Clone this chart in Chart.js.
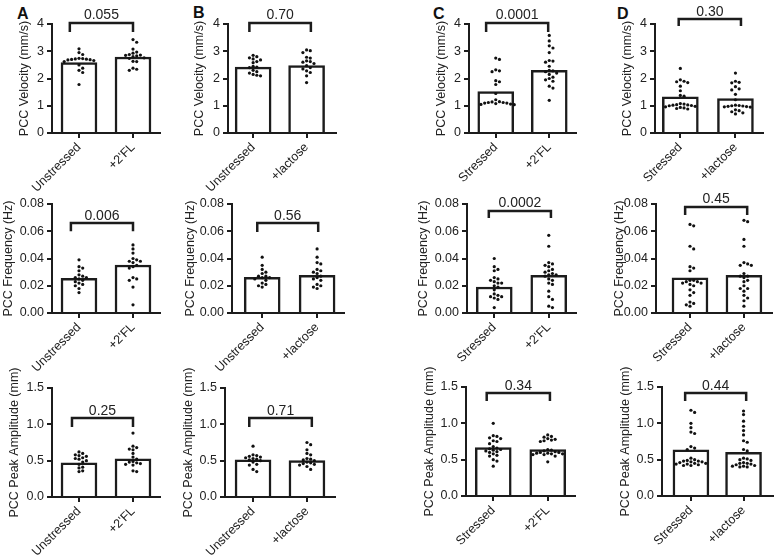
<!DOCTYPE html>
<html><head><meta charset="utf-8">
<script src="https://cdn.jsdelivr.net/npm/chart.js@4.4.0/dist/chart.umd.min.js"></script>
<style>
html,body{margin:0;padding:0;background:#fff;width:775px;height:558px;overflow:hidden;position:relative;font-family:"Liberation Sans",Arial,sans-serif}
canvas{position:absolute}
.lt{position:absolute;font:bold 16px "Liberation Sans",Arial,sans-serif;line-height:16px;color:#111}
</style></head><body>
<div class="lt" style="left:17px;top:6px">A</div>
<div class="lt" style="left:193px;top:5px">B</div>
<div class="lt" style="left:433px;top:6px">C</div>
<div class="lt" style="left:617px;top:6px">D</div>
<script>
// ---------- categories ----------
const catA = ["Unstressed", "+2'FL"];
const catB = ["Unstressed", "+lactose"];
const catC = ["Stressed", "+2'FL"];
const catD = ["Stressed", "+lactose"];

// ---------- y tick labels ----------
const velTicks = [0, 1, 2, 3, 4];
const freqTicks = [0, 0.02, 0.04, 0.06, 0.08];
const ampTicks = [0, 0.5, 1.0, 1.5];

// ---------- p-values ----------
const pVel = ["0.055", "0.70", "0.0001", "0.30"];
const pFreq = ["0.006", "0.56", "0.0002", "0.45"];
const pAmp = ["0.25", "0.71", "0.34", "0.44"];

// ---------- PCC Velocity (mm/s) ----------
const velMeanA = [2.58, 2.79];
const velA_ctrl = [3.09, 2.95, 2.88, 2.74, 2.73, 2.72, 2.71, 2.70, 2.69, 2.68, 2.66, 2.62, 2.50, 2.38, 2.30, 2.22, 1.78];
const velA_trt = [3.43, 3.33, 3.08, 2.97, 2.93, 2.88, 2.86, 2.85, 2.83, 2.80, 2.76, 2.74, 2.63, 2.62, 2.38, 2.34, 2.30];
const velMeanB = [2.42, 2.47];
const velB_ctrl = [2.85, 2.80, 2.76, 2.72, 2.68, 2.62, 2.58, 2.45, 2.42, 2.40, 2.30, 2.25, 2.20, 2.15, 2.12, 2.10];
const velB_trt = [3.05, 3.02, 2.95, 2.78, 2.75, 2.65, 2.62, 2.60, 2.55, 2.47, 2.40, 2.35, 2.28, 2.22, 2.10, 1.85];
const velMeanC = [1.52, 2.30];
const velC_ctrl = [2.75, 2.70, 2.32, 2.28, 2.25, 1.92, 1.88, 1.78, 1.45, 1.22, 1.15, 1.14, 1.12, 1.12, 1.10, 1.10, 1.08, 1.06, 1.05, 1.04];
const velC_trt = [3.58, 3.38, 3.20, 3.12, 2.95, 2.66, 2.64, 2.60, 2.45, 2.30, 2.28, 2.25, 2.20, 2.15, 2.05, 2.00, 1.95, 1.90, 1.72, 1.65, 1.20];
const velMeanD = [1.33, 1.26];
const velD_ctrl = [2.37, 1.95, 1.90, 1.88, 1.85, 1.72, 1.55, 1.38, 1.35, 1.08, 1.06, 1.04, 1.03, 1.02, 1.01, 1.00, 0.98, 0.96, 0.94, 0.92, 0.90, 0.88];
const velD_trt = [2.20, 1.90, 1.86, 1.84, 1.70, 1.62, 1.58, 1.42, 1.22, 1.02, 1.01, 1.00, 0.99, 0.98, 0.97, 0.96, 0.95, 0.85, 0.82, 0.78, 0.74, 0.70];

// ---------- PCC Frequency (Hz) ----------
const freqMeanA = [0.0254, 0.0352];
const freqA_ctrl = [0.039, 0.034, 0.033, 0.031, 0.028, 0.027, 0.026, 0.026, 0.025, 0.024, 0.023, 0.022, 0.021, 0.020, 0.018, 0.015];
const freqA_trt = [0.050, 0.047, 0.044, 0.040, 0.039, 0.038, 0.038, 0.037, 0.035, 0.034, 0.033, 0.026, 0.025, 0.024, 0.019, 0.006];
const freqMeanB = [0.0262, 0.0277];
const freqB_ctrl = [0.041, 0.035, 0.032, 0.030, 0.029, 0.027, 0.027, 0.026, 0.026, 0.025, 0.024, 0.022, 0.021, 0.020, 0.019];
const freqB_trt = [0.047, 0.041, 0.037, 0.036, 0.032, 0.031, 0.030, 0.029, 0.027, 0.026, 0.025, 0.024, 0.021, 0.020, 0.019, 0.018];
const freqMeanC = [0.0191, 0.0276];
const freqC_ctrl = [0.040, 0.034, 0.032, 0.031, 0.026, 0.025, 0.024, 0.023, 0.022, 0.022, 0.020, 0.019, 0.017, 0.014, 0.013, 0.012, 0.012, 0.011, 0.010, 0.004];
const freqC_trt = [0.057, 0.049, 0.037, 0.036, 0.035, 0.034, 0.032, 0.031, 0.030, 0.029, 0.028, 0.028, 0.027, 0.025, 0.024, 0.022, 0.021, 0.016, 0.012, 0.010, 0.005, 0.004];
const freqMeanD = [0.0259, 0.0276];
const freqD_ctrl = [0.065, 0.064, 0.049, 0.047, 0.034, 0.033, 0.031, 0.024, 0.024, 0.023, 0.023, 0.022, 0.022, 0.021, 0.020, 0.017, 0.015, 0.013, 0.008, 0.007, 0.006, 0.005];
const freqD_trt = [0.068, 0.067, 0.054, 0.049, 0.037, 0.036, 0.035, 0.035, 0.029, 0.027, 0.027, 0.026, 0.024, 0.023, 0.020, 0.018, 0.018, 0.016, 0.013, 0.011, 0.009, 0.005];

// ---------- PCC Peak Amplitude (mm) ----------
const ampMeanA = [0.47, 0.526];
const ampA_ctrl = [0.62, 0.60, 0.58, 0.57, 0.56, 0.54, 0.53, 0.52, 0.50, 0.48, 0.45, 0.41, 0.40, 0.36, 0.35];
const ampA_trt = [0.88, 0.70, 0.68, 0.66, 0.65, 0.60, 0.55, 0.52, 0.49, 0.48, 0.47, 0.46, 0.45, 0.44, 0.36, 0.35];
const ampMeanB = [0.51, 0.50];
const ampB_ctrl = [0.70, 0.58, 0.57, 0.56, 0.55, 0.54, 0.53, 0.52, 0.51, 0.50, 0.48, 0.45, 0.44, 0.38, 0.35];
const ampB_trt = [0.75, 0.72, 0.65, 0.60, 0.58, 0.53, 0.52, 0.51, 0.50, 0.48, 0.47, 0.46, 0.45, 0.44, 0.42, 0.38];
const ampMeanC = [0.667, 0.64];
const ampC_ctrl = [1.00, 0.83, 0.82, 0.80, 0.79, 0.76, 0.75, 0.72, 0.68, 0.66, 0.65, 0.64, 0.63, 0.62, 0.61, 0.60, 0.58, 0.56, 0.55, 0.50, 0.48, 0.41];
const ampC_trt = [0.84, 0.82, 0.81, 0.79, 0.78, 0.77, 0.76, 0.75, 0.64, 0.63, 0.62, 0.61, 0.60, 0.60, 0.59, 0.59, 0.58, 0.58, 0.57, 0.57, 0.55, 0.47];
const ampMeanD = [0.635, 0.60];
const ampD_ctrl = [1.18, 1.15, 1.00, 0.94, 0.88, 0.86, 0.68, 0.66, 0.64, 0.52, 0.50, 0.49, 0.48, 0.48, 0.47, 0.47, 0.46, 0.45, 0.45, 0.44, 0.44, 0.43, 0.42, 0.42];
const ampD_trt = [1.17, 1.12, 1.03, 0.96, 0.90, 0.84, 0.76, 0.74, 0.64, 0.62, 0.52, 0.51, 0.50, 0.49, 0.46, 0.45, 0.45, 0.44, 0.43, 0.42, 0.41, 0.41, 0.40, 0.40];

// ---------- assemble panels (data + layout) ----------
const velTitle = "PCC Velocity (mm/s)", freqTitle = "PCC Frequency (Hz)", ampTitle = "PCC Peak Amplitude (mm)";
const panels = [
  {cats:catA, groups:[velA_ctrl, velA_trt], means:velMeanA, p:pVel[0], yTicks:velTicks, yMax:4, dec:0, title:velTitle,
   l:52, r:160, t:24, b:133, xMin:-0.5, xMax:1.5, titleX:24, br:[-0.17, 1.0, 4.04, 3.71]},
  {cats:catB, groups:[velB_ctrl, velB_trt], means:velMeanB, p:pVel[1], yTicks:velTicks, yMax:4, dec:0, title:velTitle,
   l:228, r:336, t:24, b:133, xMin:-0.47, xMax:1.55, titleX:199, br:[-0.07, 1.08, 4.04, 3.71]},
  {cats:catC, groups:[velC_ctrl, velC_trt], means:velMeanC, p:pVel[2], yTicks:velTicks, yMax:4, dec:0, title:velTitle,
   l:469, r:576, t:24, b:133, xMin:-0.5, xMax:1.5, titleX:441, br:[-0.18, 0.98, 4.04, 3.71]},
  {cats:catD, groups:[velD_ctrl, velD_trt], means:velMeanD, p:pVel[3], yTicks:velTicks, yMax:4, dec:0, title:velTitle,
   l:655, r:763, t:24, b:133, xMin:-0.46, xMax:1.5, titleX:627, br:[-0.03, 1.1, 4.18, 3.93]},

  {cats:catA, groups:[freqA_ctrl, freqA_trt], means:freqMeanA, p:pFreq[0], yTicks:freqTicks, yMax:0.08, dec:2, title:freqTitle,
   l:52, r:160, t:204, b:313, xMin:-0.5, xMax:1.5, titleX:8, br:[-0.15, 1.0, 0.066, 0.060]},
  {cats:catB, groups:[freqB_ctrl, freqB_trt], means:freqMeanB, p:pFreq[1], yTicks:freqTicks, yMax:0.08, dec:2, title:freqTitle,
   l:232, r:344, t:204, b:313, xMin:-0.55, xMax:1.49, titleX:190, br:[-0.09, 1.02, 0.066, 0.0595]},
  {cats:catC, groups:[freqC_ctrl, freqC_trt], means:freqMeanC, p:pFreq[2], yTicks:freqTicks, yMax:0.08, dec:2, title:freqTitle,
   l:467, r:576, t:204, b:313, xMin:-0.5, xMax:1.5, titleX:423, br:[-0.1, 1.04, 0.0749, 0.0697]},
  {cats:catD, groups:[freqD_ctrl, freqD_trt], means:freqMeanD, p:pFreq[3], yTicks:freqTicks, yMax:0.08, dec:2, title:freqTitle,
   l:656, r:772, t:204, b:313, xMin:-0.63, xMax:1.52, titleX:619, br:[-0.09, 1.06, 0.0778, 0.072]},

  {cats:catA, groups:[ampA_ctrl, ampA_trt], means:ampMeanA, p:pAmp[0], yTicks:ampTicks, yMax:1.5, dec:1, title:ampTitle,
   l:52, r:160, t:388, b:497, xMin:-0.5, xMax:1.5, titleX:14, br:[-0.13, 1.0, 1.087, 0.963]},
  {cats:catB, groups:[ampB_ctrl, ampB_trt], means:ampMeanB, p:pAmp[1], yTicks:ampTicks, yMax:1.5, dec:1, title:ampTitle,
   l:225, r:335, t:388, b:497, xMin:-0.52, xMax:1.52, titleX:188, br:[-0.07, 1.09, 1.087, 0.963]},
  {cats:catC, groups:[ampC_ctrl, ampC_trt], means:ampMeanC, p:pAmp[2], yTicks:ampTicks, yMax:1.5, dec:1, title:ampTitle,
   l:466, r:575, t:387, b:496, xMin:-0.5, xMax:1.5, titleX:429, br:[-0.12, 1.04, 1.417, 1.307]},
  {cats:catD, groups:[ampD_ctrl, ampD_trt], means:ampMeanD, p:pAmp[3], yTicks:ampTicks, yMax:1.5, dec:1, title:ampTitle,
   l:662, r:773, t:387, b:496, xMin:-0.55, xMax:1.56, titleX:625, br:[-0.11, 1.05, 1.417, 1.307]}
];

const FONT = '"Liberation Sans", Arial, sans-serif';
Chart.defaults.font.family = FONT;
Chart.defaults.color = '#222';
const FS = 12.5, LH = 15;
const INK = '#1c1c1c';

// beeswarm horizontal offsets (layout only, computed from values)
function swarm(vals, pxY, pxX) {
  const placed = [], out = [];
  const d = 3.5, step = 3.7;
  vals.forEach(v => {
    const y = v * pxY;
    for (let k = 0; k < 60; k++) {
      const off = (k === 0 ? 0 : (k % 2 ? 1 : -1) * Math.ceil(k / 2)) * step;
      if (placed.every(q => Math.hypot(q[0] - off, q[1] - y) >= d)) {
        placed.push([off, y]); out.push(off / pxX); break;
      }
    }
  });
  return out;
}

function makePanel(p) {
  const cx = Math.round(p.titleX - LH / 2), cy = p.t - 30;
  const cw = Math.round(p.r + 10 - cx), ch = p.b + 82 - cy;
  const cv = document.createElement('canvas');
  cv.width = cw; cv.height = ch;
  cv.style.left = cx + 'px'; cv.style.top = cy + 'px';
  cv.style.width = cw + 'px'; cv.style.height = ch + 'px';
  document.body.appendChild(cv);
  const pxY = (p.b - p.t) / p.yMax, pxX = (p.r - p.l) / (p.xMax - p.xMin);
  const dots = [];
  p.groups.forEach((vals, gi) => {
    const offs = swarm(vals, pxY, pxX);
    vals.forEach((v, i) => dots.push({x: gi + offs[i], y: v}));
  });
  const axisGrid = {drawOnChartArea: false, offset: false, color: INK, lineWidth: 2, tickLength: 5};
  const axisBorder = {color: INK, width: 2};
  new Chart(cv, {
    type: 'bar',
    data: {datasets: [
      {type: 'scatter', data: dots, pointRadius: 1.6, pointHoverRadius: 1.6, pointBackgroundColor: '#111', pointBorderWidth: 0, order: 0},
      {type: 'bar', data: p.means.map((m, i) => ({x: i, y: m})), backgroundColor: '#fff', borderColor: INK, borderWidth: 2.5, barThickness: 36, order: 1}
    ]},
    options: {
      responsive: false, animation: false, devicePixelRatio: 1,
      layout: {padding: {left: 0, top: p.t - cy, right: cx + cw - p.r, bottom: 0}},
      plugins: {legend: {display: false}, tooltip: {enabled: false}},
      scales: {
        x: {type: 'linear', min: p.xMin, max: p.xMax, offset: false,
            afterBuildTicks: s => { s.ticks = [{value: 0}, {value: 1}]; },
            afterFit: s => { s.height = cy + ch - p.b; },
            ticks: {callback: v => p.cats[v], autoSkip: false, minRotation: 45, maxRotation: 45, font: {size: FS}, color: '#222', padding: 2},
            grid: axisGrid, border: axisBorder},
        y: {type: 'linear', min: 0, max: p.yMax, offset: false,
            afterBuildTicks: s => { s.ticks = p.yTicks.map(v => ({value: v})); },
            afterFit: s => { s.width = p.l - cx; },
            ticks: {callback: v => Number(v).toFixed(p.dec), font: {size: FS}, color: '#222', padding: 3},
            grid: axisGrid, border: axisBorder,
            title: {display: true, text: p.title, font: {size: FS}, color: '#222', padding: 0}}
      }
    },
    plugins: [{
      id: 'bracket',
      afterDraw(c) {
        const ctx = c.ctx, xs = c.scales.x, ys = c.scales.y;
        const x1 = xs.getPixelForValue(p.br[0]), x2 = xs.getPixelForValue(p.br[1]);
        const yt = ys.getPixelForValue(p.br[2]), yl = ys.getPixelForValue(p.br[3]);
        ctx.save();
        ctx.strokeStyle = INK; ctx.lineWidth = 2.5; ctx.lineJoin = 'miter';
        ctx.beginPath(); ctx.moveTo(x1, yl); ctx.lineTo(x1, yt); ctx.lineTo(x2, yt); ctx.lineTo(x2, yl); ctx.stroke();
        ctx.font = '14px ' + FONT; ctx.fillStyle = '#222'; ctx.textAlign = 'center'; ctx.textBaseline = 'alphabetic';
        ctx.fillText(p.p, (x1 + x2) / 2, yt - 3.5);
        ctx.restore();
      }
    }]
  });
}
panels.forEach(makePanel);
</script>
</body></html>
